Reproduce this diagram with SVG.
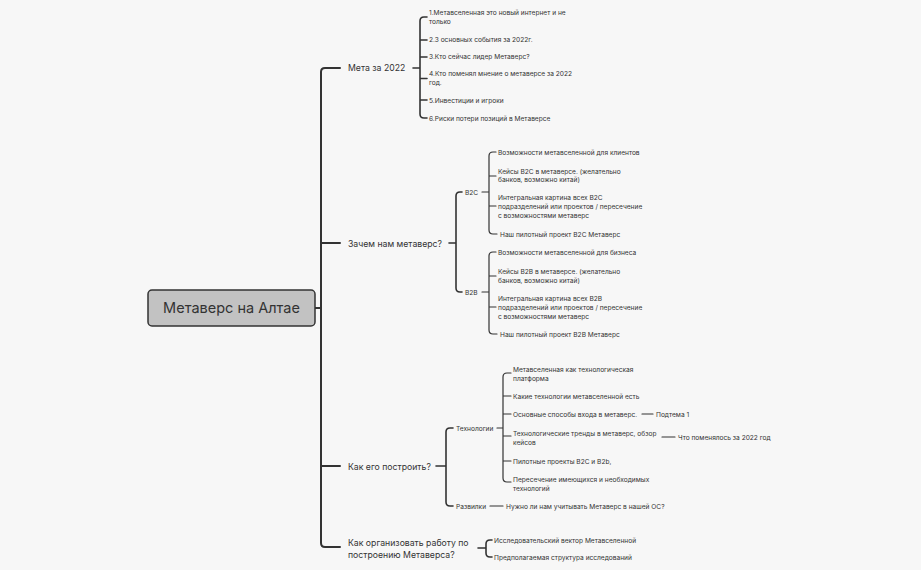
<svg xmlns="http://www.w3.org/2000/svg" width="921" height="570" viewBox="0 0 921 570">
<style>
text{font-family:Inter,"Noto Sans","Liberation Sans",sans-serif;fill:#333}
.l1{font-size:8.7px}
.l2{font-size:6.6px}
.root{font-size:14.5px}
.c{fill:none;stroke:#333;stroke-linecap:round;stroke-linejoin:round}
.w1{stroke-width:2}
.w2{stroke-width:1.6}
.w3{stroke-width:1.2}
</style>
<rect width="921" height="570" fill="#f7f7f7"/>
<g id="connectors">
<path class="c w1" d="M315,308 H321 M340,68 H325 Q321,68 321,72 V543 Q321,547 325,547 H340 M321,243 H340 M321,466 H340"/>
<path class="c w2" d="M413,68 H420 M427,17 H424 Q420,17 420,21 V114 Q420,118 424,118 H427 M420,40 H427 M420,57 H427 M420,78.5 H427 M420,100 H427"/>
<path class="c w2" d="M449,243 H456 M462,192 H460 Q456,192 456,196 V288 Q456,292 460,292 H462"/>
<path class="c w3" d="M482,192 H489 M496,152 H493 Q489,152 489,156 V230 Q489,234 493,234 H497 M489,176 H496 M489,206 H496"/>
<path class="c w3" d="M482,292 H489 M496,252 H493 Q489,252 489,256 V330 Q489,334 493,334 H497 M489,276 H496 M489,307 H496"/>
<path class="c w2" d="M436,466 H446 M453,428 H450 Q446,428 446,432 V502 Q446,506 450,506 H453"/>
<path class="c w3" d="M497,428 H503 M511,373 H507 Q503,373 503,377 V478 Q503,482 507,482 H511 M503,396 H511 M503,414 H511 M503,436 H511 M503,461 H511"/>
<path class="c w3" d="M642,414 H653 M662,437 H675 M490,506 H503"/>
<path class="c w2" d="M478,548 H486 M492,540 H490 Q486,540 486,544 V553 Q486,557 490,557 H492"/>
</g>
<g id="root">
<rect x="148" y="290" width="167" height="36" rx="4" fill="#c2c2c2" stroke="#333" stroke-width="1.5"/>
<text class="root" x="231.5" y="313" text-anchor="middle">Метаверс на Алтае</text>
</g>
<g id="meta">
<text class="l1" x="348" y="71">Мета за 2022</text>
</g>
<g id="meta-children">
<text class="l2" x="429" y="15"><tspan x="429">1.Метавселенная это новый интернет и не</tspan><tspan x="429" dy="9">только</tspan></text>
<text class="l2" x="429" y="42">2.3 основных события за 2022г.</text>
<text class="l2" x="429" y="59">3.Кто сейчас лидер Метаверс?</text>
<text class="l2" x="429" y="76"><tspan x="429">4.Кто поменял мнение о метаверсе за 2022</tspan><tspan x="429" dy="9">год.</tspan></text>
<text class="l2" x="429" y="102.5">5.Инвестиции и игроки</text>
<text class="l2" x="429" y="120.5">6.Риски потери позиций в Метаверсе</text>
</g>
<g id="why">
<text class="l1" x="348" y="246.5">Зачем нам метаверс?</text>
</g>
<g id="b2c">
<text class="l2" x="465" y="194.5">B2C</text>
<text class="l2" x="498" y="154.5">Возможности метавселенной для клиентов</text>
<text class="l2" y="173.5"><tspan x="498">Кейсы B2C в метаверсе. (желательно</tspan><tspan x="498" dy="8.5">банков, возможно китай)</tspan></text>
<text class="l2" y="199.5"><tspan x="498">Интегральная картина всех B2C</tspan><tspan x="498" dy="9">подразделений или проектов / пересечение</tspan><tspan x="498" dy="9">с возможностями метаверс</tspan></text>
<text class="l2" x="500" y="236.5">Наш пилотный проект B2C Метаверс</text>
</g>
<g id="b2b">
<text class="l2" x="465" y="294.5">B2B</text>
<text class="l2" x="498" y="254.5">Возможности метавселенной для бизнеса</text>
<text class="l2" y="273.5"><tspan x="498">Кейсы B2B в метаверсе. (желательно</tspan><tspan x="498" dy="9">банков, возможно китай)</tspan></text>
<text class="l2" y="300.5"><tspan x="498">Интегральная картина всех B2B</tspan><tspan x="498" dy="9">подразделений или проектов / пересечение</tspan><tspan x="498" dy="9">с возможностями метаверс</tspan></text>
<text class="l2" x="500" y="336.5">Наш пилотный проект B2B Метаверс</text>
</g>
<g id="how">
<text class="l1" x="348" y="469.5">Как его построить?</text>
</g>
<g id="tech">
<text class="l2" x="456" y="430.5">Технологии</text>
<text class="l2" y="371.5"><tspan x="513">Метавселенная как технологическая</tspan><tspan x="513" dy="9">платформа</tspan></text>
<text class="l2" x="513" y="398.5">Какие технологии метавселенной есть</text>
<text class="l2" x="513" y="416.5">Основные способы входа в метаверс.</text>
<text class="l2" x="656" y="416.5">Подтема 1</text>
<text class="l2" y="435.5"><tspan x="513">Технологические тренды в метаверс, обзор</tspan><tspan x="513" dy="9">кейсов</tspan></text>
<text class="l2" x="678" y="439.5">Что поменялось за 2022 год</text>
<text class="l2" x="513" y="463.5">Пилотные проекты B2C и B2b,</text>
<text class="l2" y="481.5"><tspan x="513">Пересечение имеющихся и необходимых</tspan><tspan x="513" dy="9">технологий</tspan></text>
</g>
<g id="forks">
<text class="l2" x="456" y="508.5">Развилки</text>
<text class="l2" x="506" y="508.5">Нужно ли нам учитывать Метаверс в нашей ОС?</text>
</g>
<g id="org">
<text class="l1" y="545.5"><tspan x="348">Как организовать работу по</tspan><tspan x="348" dy="12">построению Метаверса?</tspan></text>
<text class="l2" x="494" y="542.5">Исследовательский вектор Метавселенной</text>
<text class="l2" x="494" y="559.5">Предполагаемая структура исследований</text>
</g>
</svg>
